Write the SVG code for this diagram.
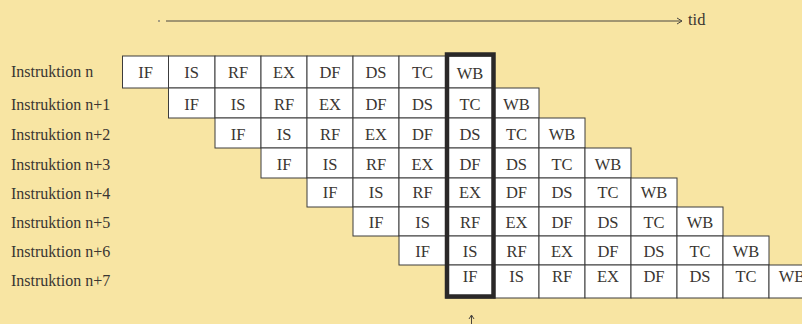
<svg xmlns="http://www.w3.org/2000/svg" width="802" height="324" viewBox="0 0 802 324">
<style>
.bg{fill:#F8E5A3}
.cell{fill:#FFFFFF;stroke:#3C3C3C;stroke-width:1}
.t{font-family:"Liberation Serif","Times New Roman",serif;font-size:16.5px;fill:#3A3632}
.lab{font-size:16px}
.c{text-anchor:middle}
.ln{stroke:#4A4640;stroke-width:1;fill:none}
.thick{fill:none;stroke:#2A2828;stroke-width:4.5}
</style>
<rect class="bg" x="0" y="0" width="802" height="324"/>
<g id="labels">
<text class="t lab" x="11" y="77">Instruktion n</text>
<text class="t lab" x="11" y="109.5">Instruktion n+1</text>
<text class="t lab" x="11" y="140">Instruktion n+2</text>
<text class="t lab" x="11" y="169.5">Instruktion n+3</text>
<text class="t lab" x="11" y="198.5">Instruktion n+4</text>
<text class="t lab" x="11" y="228">Instruktion n+5</text>
<text class="t lab" x="11" y="257">Instruktion n+6</text>
<text class="t lab" x="11" y="286">Instruktion n+7</text>
</g>
<g id="row-n">
<rect class="cell" x="122.5" y="56" width="46" height="32"/>
<rect class="cell" x="168.5" y="56" width="46.5" height="32"/>
<rect class="cell" x="215" y="56" width="46" height="32"/>
<rect class="cell" x="261" y="56" width="46" height="32"/>
<rect class="cell" x="307" y="56" width="46" height="32"/>
<rect class="cell" x="353" y="56" width="46" height="32"/>
<rect class="cell" x="399" y="56" width="47" height="32"/>
<rect class="cell" x="446" y="56" width="48" height="32"/>
<text class="t c" x="145.5" y="77.5">IF</text>
<text class="t c" x="191.5" y="77.5">IS</text>
<text class="t c" x="238" y="77.5">RF</text>
<text class="t c" x="284" y="77.5">EX</text>
<text class="t c" x="330" y="77.5">DF</text>
<text class="t c" x="376" y="77.5">DS</text>
<text class="t c" x="422.5" y="77.5">TC</text>
<text class="t c" x="470" y="79">WB</text>
</g>
<g id="row-n1">
<rect class="cell" x="168.5" y="88" width="46.5" height="30"/>
<rect class="cell" x="215" y="88" width="46" height="30"/>
<rect class="cell" x="261" y="88" width="46" height="30"/>
<rect class="cell" x="307" y="88" width="46" height="30"/>
<rect class="cell" x="353" y="88" width="46" height="30"/>
<rect class="cell" x="399" y="88" width="47" height="30"/>
<rect class="cell" x="446" y="88" width="48" height="30"/>
<rect class="cell" x="494" y="88" width="45" height="30"/>
<text class="t c" x="191.5" y="110">IF</text>
<text class="t c" x="238" y="110">IS</text>
<text class="t c" x="284" y="110">RF</text>
<text class="t c" x="330" y="110">EX</text>
<text class="t c" x="376" y="110">DF</text>
<text class="t c" x="422.5" y="110">DS</text>
<text class="t c" x="470" y="110">TC</text>
<text class="t c" x="516.5" y="110">WB</text>
</g>
<g id="row-n2">
<rect class="cell" x="215" y="118" width="46" height="30"/>
<rect class="cell" x="261" y="118" width="46" height="30"/>
<rect class="cell" x="307" y="118" width="46" height="30"/>
<rect class="cell" x="353" y="118" width="46" height="30"/>
<rect class="cell" x="399" y="118" width="47" height="30"/>
<rect class="cell" x="446" y="118" width="48" height="30"/>
<rect class="cell" x="494" y="118" width="45" height="30"/>
<rect class="cell" x="539" y="118" width="46" height="30"/>
<text class="t c" x="238" y="140">IF</text>
<text class="t c" x="284" y="140">IS</text>
<text class="t c" x="330" y="140">RF</text>
<text class="t c" x="376" y="140">EX</text>
<text class="t c" x="422.5" y="140">DF</text>
<text class="t c" x="470" y="140">DS</text>
<text class="t c" x="516.5" y="140">TC</text>
<text class="t c" x="562" y="140">WB</text>
</g>
<g id="row-n3">
<rect class="cell" x="261" y="148" width="46" height="30"/>
<rect class="cell" x="307" y="148" width="46" height="30"/>
<rect class="cell" x="353" y="148" width="46" height="30"/>
<rect class="cell" x="399" y="148" width="47" height="30"/>
<rect class="cell" x="446" y="148" width="48" height="30"/>
<rect class="cell" x="494" y="148" width="45" height="30"/>
<rect class="cell" x="539" y="148" width="46" height="30"/>
<rect class="cell" x="585" y="148" width="46" height="30"/>
<text class="t c" x="284" y="169.5">IF</text>
<text class="t c" x="330" y="169.5">IS</text>
<text class="t c" x="376" y="169.5">RF</text>
<text class="t c" x="422.5" y="169.5">EX</text>
<text class="t c" x="470" y="169.5">DF</text>
<text class="t c" x="516.5" y="169.5">DS</text>
<text class="t c" x="562" y="169.5">TC</text>
<text class="t c" x="608" y="169.5">WB</text>
</g>
<g id="row-n4">
<rect class="cell" x="307" y="178" width="46" height="29"/>
<rect class="cell" x="353" y="178" width="46" height="29"/>
<rect class="cell" x="399" y="178" width="47" height="29"/>
<rect class="cell" x="446" y="178" width="48" height="29"/>
<rect class="cell" x="494" y="178" width="45" height="29"/>
<rect class="cell" x="539" y="178" width="46" height="29"/>
<rect class="cell" x="585" y="178" width="46" height="29"/>
<rect class="cell" x="631" y="178" width="46" height="29"/>
<text class="t c" x="330" y="198">IF</text>
<text class="t c" x="376" y="198">IS</text>
<text class="t c" x="422.5" y="198">RF</text>
<text class="t c" x="470" y="198">EX</text>
<text class="t c" x="516.5" y="198">DF</text>
<text class="t c" x="562" y="198">DS</text>
<text class="t c" x="608" y="198">TC</text>
<text class="t c" x="654" y="198">WB</text>
</g>
<g id="row-n5">
<rect class="cell" x="353" y="207" width="46" height="29"/>
<rect class="cell" x="399" y="207" width="47" height="29"/>
<rect class="cell" x="446" y="207" width="48" height="29"/>
<rect class="cell" x="494" y="207" width="45" height="29"/>
<rect class="cell" x="539" y="207" width="46" height="29"/>
<rect class="cell" x="585" y="207" width="46" height="29"/>
<rect class="cell" x="631" y="207" width="46" height="29"/>
<rect class="cell" x="677" y="207" width="46" height="29"/>
<text class="t c" x="376" y="227.5">IF</text>
<text class="t c" x="422.5" y="227.5">IS</text>
<text class="t c" x="470" y="227.5">RF</text>
<text class="t c" x="516.5" y="227.5">EX</text>
<text class="t c" x="562" y="227.5">DF</text>
<text class="t c" x="608" y="227.5">DS</text>
<text class="t c" x="654" y="227.5">TC</text>
<text class="t c" x="700" y="227.5">WB</text>
</g>
<g id="row-n6">
<rect class="cell" x="399" y="236" width="47" height="29"/>
<rect class="cell" x="446" y="236" width="48" height="29"/>
<rect class="cell" x="494" y="236" width="45" height="29"/>
<rect class="cell" x="539" y="236" width="46" height="29"/>
<rect class="cell" x="585" y="236" width="46" height="29"/>
<rect class="cell" x="631" y="236" width="46" height="29"/>
<rect class="cell" x="677" y="236" width="46" height="29"/>
<rect class="cell" x="723" y="236" width="46" height="29"/>
<text class="t c" x="422.5" y="256.5">IF</text>
<text class="t c" x="470" y="256.5">IS</text>
<text class="t c" x="516.5" y="256.5">RF</text>
<text class="t c" x="562" y="256.5">EX</text>
<text class="t c" x="608" y="256.5">DF</text>
<text class="t c" x="654" y="256.5">DS</text>
<text class="t c" x="700" y="256.5">TC</text>
<text class="t c" x="746" y="256.5">WB</text>
</g>
<g id="row-n7">
<rect class="cell" x="446" y="265" width="48" height="33"/>
<rect class="cell" x="494" y="265" width="45" height="33"/>
<rect class="cell" x="539" y="265" width="46" height="33"/>
<rect class="cell" x="585" y="265" width="46" height="33"/>
<rect class="cell" x="631" y="265" width="46" height="33"/>
<rect class="cell" x="677" y="265" width="46" height="33"/>
<rect class="cell" x="723" y="265" width="46" height="33"/>
<rect class="cell" x="769" y="265" width="46" height="33"/>
<text class="t c" x="470" y="282">IF</text>
<text class="t c" x="516.5" y="282">IS</text>
<text class="t c" x="562" y="282">RF</text>
<text class="t c" x="608" y="282">EX</text>
<text class="t c" x="654" y="282">DF</text>
<text class="t c" x="700" y="282">DS</text>
<text class="t c" x="746" y="282">TC</text>
<text class="t c" x="792" y="282">WB</text>
</g>
<g id="highlight">
<rect class="thick" x="447" y="54.5" width="46.5" height="242"/>
</g>
<g id="connectors">
<circle cx="159" cy="21" r="1" fill="#8A8478"/>
<line class="ln" x1="166" y1="21" x2="682" y2="21"/>
<polyline class="ln" points="677,18 682,21 677,24"/>
<line class="ln" x1="471.5" y1="324" x2="471.5" y2="315"/>
<polyline class="ln" points="469,319 471.5,315 474,319"/>
</g>
<text class="t" x="688" y="25">tid</text>
</svg>
